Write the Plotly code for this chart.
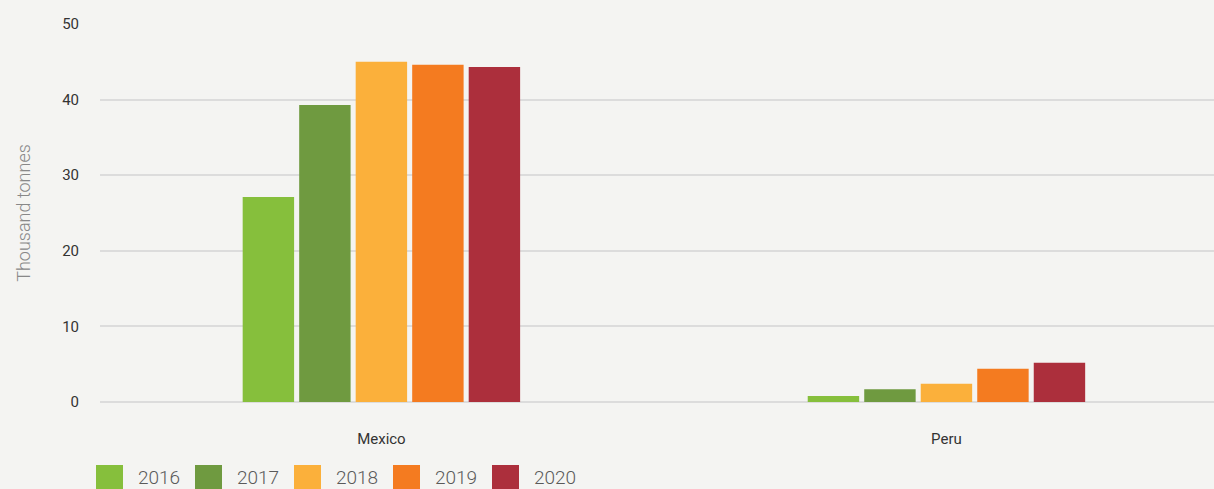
import plotly.graph_objects as go

categories = ["Mexico", "Peru"]
years = ["2016", "2017", "2018", "2019", "2020"]
values_2016 = [27.1, 0.8]
values_2017 = [39.3, 1.7]
values_2018 = [45.0, 2.4]
values_2019 = [44.6, 4.4]
values_2020 = [44.3, 5.2]
series = [values_2016, values_2017, values_2018, values_2019, values_2020]
colors = ["#86bf3c", "#6f9a40", "#fbb03b", "#f47b20", "#ac2f3c"]
y_ticks = [0, 10, 20, 30, 40, 50]

W, H = 1214, 489
ML, MT, MB = 100, 24, 87
plot_w = W - ML
plot_h = H - MT - MB

fig = go.Figure()
for yr, vals, c in zip(years, series, colors):
    fig.add_trace(go.Bar(x=categories, y=vals, name=yr, marker=dict(color=c, line=dict(width=0)),
                         showlegend=False))

# custom legend (large squares)
def px_x(p):
    return (p - ML) / plot_w

def px_y(p):
    return (H - MB - p) / plot_h

shapes = []
annotations = []
for i, (yr, c) in enumerate(zip(years, colors)):
    left = 96 + i * 99
    shapes.append(dict(type="rect", xref="paper", yref="paper",
                       x0=px_x(left), x1=px_x(left + 27), y0=px_y(465), y1=px_y(495),
                       fillcolor=c, line=dict(width=0), layer="above"))
    annotations.append(dict(xref="paper", yref="paper", x=px_x(left + 40), y=px_y(477),
                            xanchor="left", yanchor="middle", text=yr, showarrow=False,
                            font=dict(family="Roboto", size=19, color="#5a5a5a", weight=300)))

fig.update_layout(
    width=W, height=H,
    margin=dict(l=ML, r=0, t=MT, b=MB, pad=0),
    paper_bgcolor="#f4f4f2", plot_bgcolor="#f4f4f2",
    barmode="group", bargap=0.5, bargroupgap=0.09,
    shapes=shapes, annotations=annotations,
    xaxis=dict(range=[-0.498, 1.4735], showgrid=False, zeroline=False, showline=False,
               ticks="", ticklabelstandoff=26,
               tickfont=dict(family="Roboto", size=15, color="#333333")),
    yaxis=dict(range=[0, 50], tickvals=y_ticks, showgrid=True, gridcolor="#dcdcdc", gridwidth=2,
               zeroline=True, zerolinecolor="#dcdcdc", zerolinewidth=2, showline=False,
               ticks="", ticklabelstandoff=20,
               tickfont=dict(family="Roboto", size=15, color="#333333"),
               title=dict(text="Thousand tonnes", standoff=26,
                          font=dict(family="Roboto", size=18, color="#888888", weight=300))),
    font=dict(family="Roboto"),
)

fig.write_html("out.html", config={"displayModeBar": False},
               post_script="document.body.style.margin='0';document.body.style.overflow='hidden';document.body.style.background='#f4f4f2';")
